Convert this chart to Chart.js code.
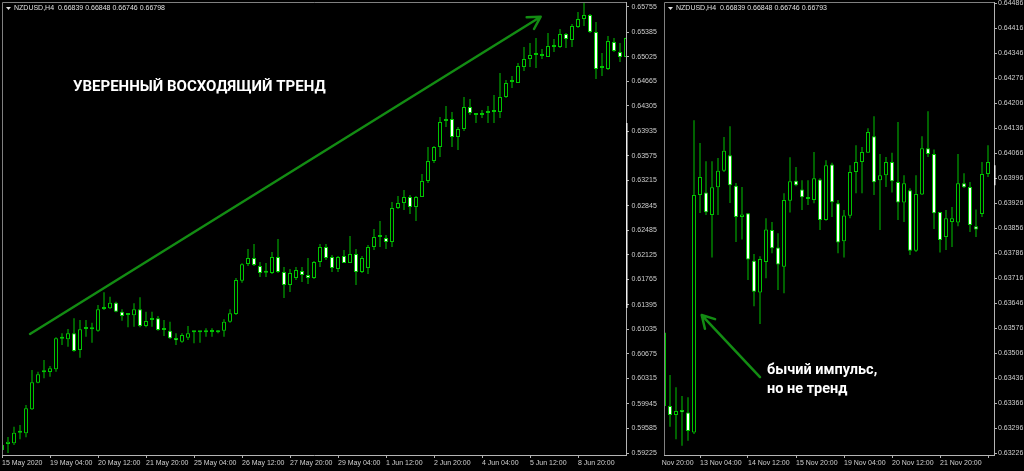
<!DOCTYPE html>
<html>
<head>
<meta charset="utf-8">
<script src="https://cdn.jsdelivr.net/npm/chart.js@4.4.0/dist/chart.umd.min.js"></script>
<style>
html, body { margin: 0; padding: 0; background: #000; }
body { width: 1024px; height: 471px; position: relative; overflow: hidden; }
#leftChart { position: absolute; left: 0; top: 0; }
#rightChart { position: absolute; left: 662px; top: 0; }
</style>
</head>
<body>
<canvas id="leftChart" width="662" height="471"></canvas>
<canvas id="rightChart" width="362" height="471"></canvas>
<script>
// NZDUSD H4, 15 May - 8 Jun 2020 (left window)
var leftOpen = [0.59270,0.59357,0.59368,0.59523,0.59514,0.59865,0.60254,0.60406,0.60411,0.60450,
  0.60898,0.60889,0.60977,0.60733,0.61040,0.61035,0.61015,0.61332,0.61343,0.61425,
  0.61293,0.61245,0.61240,0.61328,0.61084,0.61171,0.61196,0.61025,0.61015,0.60908,
  0.60854,0.60912,0.60992,0.60992,0.60992,0.60996,0.60992,0.61015,0.61147,0.61259,
  0.61746,0.61991,0.62079,0.61961,0.61863,0.61859,0.62093,0.61874,0.61683,0.61786,
  0.61888,0.61830,0.61786,0.62020,0.62239,0.62093,0.61918,0.62108,0.62005,0.62137,
  0.61874,0.61932,0.62239,0.62386,0.62371,0.62313,0.62810,0.62883,0.62971,0.62825,
  0.62971,0.63205,0.63498,0.63702,0.64083,0.64112,0.63849,0.63966,0.64288,0.64171,
  0.64171,0.64200,0.64214,0.64214,0.64434,0.64653,0.64639,0.64873,0.64990,0.65048,
  0.65034,0.65019,0.65165,0.65165,0.65356,0.65268,0.65458,0.65575,0.65634,0.65385,
  0.64858,0.64844,0.65239,0.65092,0.65019];
var leftHigh = [0.59372,0.59460,0.59610,0.59635,0.59928,0.60440,0.60415,0.60586,0.60499,0.60918,
  0.60977,0.61040,0.61196,0.61171,0.61171,0.61132,0.61391,0.61577,0.61512,0.61439,
  0.61328,0.61269,0.61416,0.61503,0.61293,0.61293,0.61230,0.61171,0.61147,0.60977,
  0.60977,0.61084,0.61015,0.61000,0.61050,0.61050,0.61025,0.61182,0.61328,0.61786,
  0.62001,0.62210,0.62283,0.62020,0.62005,0.62166,0.62357,0.61947,0.61918,0.61947,
  0.61947,0.62079,0.62035,0.62283,0.62283,0.62122,0.62108,0.62196,0.62400,0.62210,
  0.62108,0.62269,0.62503,0.62620,0.62415,0.62898,0.62985,0.63073,0.63000,0.62985,
  0.63307,0.63702,0.63717,0.64141,0.64302,0.64214,0.63995,0.64434,0.64405,0.64200,
  0.64244,0.64302,0.64463,0.64785,0.64683,0.64741,0.64931,0.65165,0.65224,0.65297,
  0.65136,0.65370,0.65282,0.65429,0.65370,0.65502,0.65677,0.65809,0.65648,0.65531,
  0.65078,0.65326,0.65297,0.65224,0.65300];
var leftLow = [0.59226,0.59226,0.59343,0.59426,0.59455,0.59855,0.60246,0.60318,0.60342,0.60415,
  0.60806,0.60781,0.60708,0.60620,0.60927,0.60839,0.61000,0.61318,0.61332,0.61284,
  0.61161,0.61065,0.61074,0.61065,0.61065,0.61074,0.61015,0.60937,0.60894,0.60806,
  0.60839,0.60879,0.60830,0.60839,0.60927,0.60927,0.60977,0.60927,0.61132,0.61245,
  0.61717,0.61961,0.61961,0.61801,0.61801,0.61845,0.61859,0.61493,0.61581,0.61757,
  0.61727,0.61698,0.61771,0.61947,0.62049,0.61874,0.61874,0.62005,0.62005,0.61683,
  0.61859,0.61845,0.62196,0.62239,0.62210,0.62239,0.62795,0.62781,0.62722,0.62620,
  0.62971,0.63176,0.63468,0.63556,0.63995,0.63702,0.63659,0.63937,0.64171,0.64054,
  0.64127,0.64054,0.64054,0.64127,0.64419,0.64566,0.64639,0.64814,0.64873,0.64858,
  0.64990,0.65019,0.65092,0.65151,0.65151,0.65165,0.65443,0.65473,0.65370,0.64697,
  0.64741,0.64829,0.65092,0.64946,0.65019];
var leftClose = [0.59343,0.59391,0.59523,0.59523,0.59880,0.60260,0.60377,0.60406,0.60465,0.60904,
  0.60898,0.60977,0.60718,0.61035,0.61040,0.61035,0.61328,0.61362,0.61425,0.61293,
  0.61230,0.61245,0.61328,0.61084,0.61157,0.61196,0.61025,0.61025,0.60904,0.60874,
  0.60952,0.60977,0.60992,0.60992,0.60992,0.60996,0.61015,0.61147,0.61269,0.61757,
  0.61986,0.62079,0.61976,0.61859,0.61863,0.62093,0.61874,0.61683,0.61859,0.61903,
  0.61830,0.61786,0.62020,0.62239,0.62079,0.61932,0.62093,0.62005,0.62137,0.61874,
  0.62079,0.62239,0.62386,0.62386,0.62313,0.62810,0.62883,0.62971,0.62825,0.62971,
  0.63205,0.63498,0.63702,0.64068,0.64112,0.63849,0.63966,0.64288,0.64200,0.64171,
  0.64200,0.64200,0.64214,0.64434,0.64639,0.64653,0.64887,0.64990,0.65048,0.65048,
  0.65034,0.65180,0.65165,0.65356,0.65282,0.65473,0.65575,0.65634,0.65385,0.64844,
  0.64858,0.65253,0.65107,0.65019,0.65297];
var leftTickBars = [0, 8, 16, 24, 32, 40, 48, 56, 64, 72, 80, 88, 96];
var leftTickLabels = ['15 May 2020', '19 May 04:00', '20 May 12:00', '21 May 20:00', '25 May 04:00',
  '26 May 12:00', '27 May 20:00', '29 May 04:00', '1 Jun 12:00', '2 Jun 20:00', '4 Jun 04:00',
  '5 Jun 12:00', '8 Jun 20:00'];
var leftPriceTicks = [0.65755, 0.65385, 0.65025, 0.64665, 0.64305, 0.63935, 0.63575, 0.63215, 0.62845,
  0.62485, 0.62125, 0.61765, 0.61395, 0.61035, 0.60675, 0.60315, 0.59945, 0.59585, 0.59225];

// right window, 12 - 21 Nov
var rightOpen = [0.63564,0.63358,0.63333,0.63347,0.63340,0.63284,0.63949,0.63956,0.63893,0.63971,
  0.64017,0.64061,0.63975,0.63888,0.63898,0.63765,0.63676,0.63762,0.63851,0.63802,
  0.63748,0.63933,0.63989,0.63965,0.63938,0.63935,0.63993,0.63879,0.64035,0.63926,
  0.63820,0.63891,0.64014,0.64042,0.64068,0.64114,0.63991,0.64005,0.64042,0.63986,
  0.63928,0.63963,0.63793,0.63951,0.64080,0.64064,0.63902,0.63832,0.63874,0.63872,
  0.63982,0.63972,0.63862,0.63896,0.64008];
var rightHigh = [0.63564,0.63445,0.63411,0.63386,0.63383,0.64159,0.64095,0.64044,0.64044,0.64053,
  0.64112,0.64142,0.63983,0.63972,0.63899,0.63784,0.63778,0.63884,0.63874,0.63842,
  0.63954,0.64055,0.64028,0.63991,0.63991,0.64070,0.63996,0.64047,0.64040,0.63935,
  0.63907,0.64033,0.64089,0.64084,0.64136,0.64170,0.64064,0.64056,0.64068,0.64154,
  0.64005,0.63968,0.64005,0.64114,0.64184,0.64077,0.63902,0.63907,0.63916,0.64064,
  0.64010,0.63986,0.63909,0.64042,0.64089];
var rightLow = [0.63254,0.63300,0.63265,0.63247,0.63261,0.63280,0.63899,0.63893,0.63774,0.63893,
  0.64014,0.63927,0.63818,0.63825,0.63711,0.63638,0.63588,0.63716,0.63786,0.63683,
  0.63674,0.63900,0.63974,0.63907,0.63921,0.63926,0.63851,0.63877,0.63888,0.63786,
  0.63774,0.63884,0.63954,0.63954,0.64068,0.63949,0.63851,0.63972,0.63956,0.63879,
  0.63874,0.63781,0.63790,0.63949,0.64056,0.63854,0.63788,0.63795,0.63804,0.63862,
  0.63969,0.63846,0.63832,0.63888,0.64000];
var rightClose = [0.63358,0.63333,0.63344,0.63341,0.63288,0.63949,0.64000,0.63901,0.63971,0.64017,
  0.64073,0.63977,0.63888,0.63895,0.63769,0.63678,0.63770,0.63853,0.63800,0.63755,
  0.63935,0.63988,0.63977,0.63943,0.63938,0.63996,0.63879,0.64033,0.63929,0.63816,
  0.63892,0.64014,0.64042,0.64070,0.64126,0.63985,0.64005,0.64042,0.63988,0.63928,
  0.63982,0.63793,0.63952,0.64080,0.64064,0.63898,0.63823,0.63884,0.63884,0.63982,
  0.63971,0.63865,0.63853,0.64008,0.64042];
var rightTickBars = [-2, 6, 14, 22, 30, 38, 46, 54];
var rightTickLabels = ['12 Nov 20:00', '13 Nov 04:00', '14 Nov 12:00', '15 Nov 20:00', '19 Nov 04:00',
  '20 Nov 12:00', '21 Nov 20:00', ''];
var rightPriceTicks = [0.64486, 0.64416, 0.64346, 0.64276, 0.64206, 0.64136, 0.64066, 0.63996, 0.63926,
  0.63856, 0.63786, 0.63716, 0.63646, 0.63576, 0.63506, 0.63436, 0.63366, 0.63296, 0.63226];

var GREEN = '#00c400';
var AXIS = '#b4b4b4';
var FRAME = '#808080';
var LABEL = '#cfcfcf';
var ARROW = '#138c13';

Chart.defaults.font.family = '"Liberation Sans", Arial, sans-serif';
Chart.defaults.font.size = 7;
Chart.defaults.color = LABEL;

function drawArrow(ctx, x0, y0, x1, y1) {
  var ang = Math.atan2(y1 - y0, x1 - x0);
  var len = 14;
  ctx.beginPath();
  ctx.moveTo(x0, y0);
  ctx.lineTo(x1, y1);
  ctx.moveTo(x1 - len * Math.cos(ang - 0.52), y1 - len * Math.sin(ang - 0.52));
  ctx.lineTo(x1, y1);
  ctx.lineTo(x1 - len * Math.cos(ang + 0.52), y1 - len * Math.sin(ang + 0.52));
  ctx.stroke();
}

// frame, window title and the hand drawn notes
var overlayPlugin = {
  id: 'overlay',
  afterDraw: function(chart, args, opts) {
    var ctx = chart.ctx, a = chart.chartArea;
    var xs = chart.scales.x, ys = chart.scales.y;
    ctx.save();
    ctx.strokeStyle = FRAME;
    ctx.lineWidth = 1;
    ctx.beginPath();
    ctx.moveTo(a.left + 0.5, a.bottom);
    ctx.lineTo(a.left + 0.5, a.top + 0.5);
    ctx.lineTo(a.right, a.top + 0.5);
    ctx.stroke();

    // bright piece of the price scale line (visible price band)
    if (opts.scaleMark) {
      ctx.strokeStyle = '#f0f0f0';
      ctx.lineWidth = 1.5;
      ctx.beginPath();
      ctx.moveTo(a.right + 0.75, ys.getPixelForValue(opts.scaleMark[0]));
      ctx.lineTo(a.right + 0.75, ys.getPixelForValue(opts.scaleMark[1]));
      ctx.stroke();
    }

    ctx.fillStyle = '#e0e0e0';
    ctx.beginPath();
    ctx.moveTo(a.left + 4, a.top + 5);
    ctx.lineTo(a.left + 9, a.top + 5);
    ctx.lineTo(a.left + 6.5, a.top + 8);
    ctx.closePath();
    ctx.fill();
    ctx.font = '7px "Liberation Sans", Arial, sans-serif';
    ctx.textBaseline = 'middle';
    ctx.fillText(opts.title, a.left + 12, a.top + 6);

    ctx.strokeStyle = ARROW;
    ctx.lineWidth = 2.5;
    ctx.lineCap = 'round';
    ctx.lineJoin = 'round';
    (opts.arrows || []).forEach(function(ar) {
      drawArrow(ctx, xs.getPixelForValue(ar.from[0]), ys.getPixelForValue(ar.from[1]),
        xs.getPixelForValue(ar.to[0]), ys.getPixelForValue(ar.to[1]));
    });

    ctx.fillStyle = '#ffffff';
    ctx.textBaseline = 'alphabetic';
    (opts.notes || []).forEach(function(n) {
      ctx.font = n.font;
      ctx.fillText(n.text, xs.getPixelForValue(n.at[0]), ys.getPixelForValue(n.at[1]));
    });
    ctx.restore();
  }
};

function makeCandles(id, open, high, low, close, cfg) {
  var bodies = open.map(function(o, i) {
    return {x: i, y: [Math.min(o, close[i]), Math.max(o, close[i])]};
  });
  var wicks = high.map(function(h, i) { return {x: i, y: [low[i], h]}; });
  var fills = open.map(function(o, i) { return close[i] < o ? '#ffffff' : '#000000'; });

  return new Chart(document.getElementById(id), {
    type: 'bar',
    data: {
      datasets: [{
        data: bodies,
        backgroundColor: fills,
        borderColor: GREEN,
        borderWidth: 1,
        borderSkipped: false,
        barThickness: 4,
        minBarLength: 2,
        grouped: false,
        inflateAmount: 0
      }, {
        data: wicks,
        backgroundColor: GREEN,
        borderWidth: 0,
        barThickness: 1,
        grouped: false,
        inflateAmount: 0
      }]
    },
    options: {
      responsive: false,
      animation: false,
      events: [],
      layout: { autoPadding: false, padding: { left: 2, top: 2, right: 0, bottom: 0 } },
      plugins: {
        legend: { display: false },
        tooltip: { enabled: false },
        overlay: cfg.overlay
      },
      scales: {
        x: {
          type: 'linear',
          min: 0,
          max: cfg.xMax,
          offset: false,
          grid: { display: true, offset: false, drawOnChartArea: false, drawTicks: true, tickLength: 3, color: AXIS },
          border: { display: true, color: AXIS },
          ticks: {
            autoSkip: false,
            maxRotation: 0,
            align: 'start',
            padding: 1,
            color: LABEL,
            callback: function(v, i) { return cfg.tickLabels[i]; }
          },
          afterBuildTicks: function(s) {
            s.ticks = cfg.tickBars.map(function(v) { return {value: v}; });
          },
          afterFit: function(s) { s.height = 16; s.paddingLeft = 0; s.paddingRight = 0; }
        },
        y: {
          position: 'right',
          min: cfg.yMin,
          max: cfg.yMax,
          grid: { display: true, drawOnChartArea: false, drawTicks: true, tickLength: 3, color: AXIS },
          border: { display: true, color: AXIS },
          ticks: {
            padding: cfg.yPad,
            color: LABEL,
            callback: function(v) { return v.toFixed(5); }
          },
          afterBuildTicks: function(s) {
            s.ticks = cfg.priceTicks.map(function(v) { return {value: v}; });
          },
          afterFit: function(s) { s.width = cfg.yWidth; s.paddingTop = 0; s.paddingBottom = 0; }
        }
      }
    },
    plugins: [overlayPlugin]
  });
}

makeCandles('leftChart', leftOpen, leftHigh, leftLow, leftClose, {
  xMax: 104, yMin: 0.59196, yMax: 0.65824, yWidth: 36, yPad: 2.5,
  tickBars: leftTickBars, tickLabels: leftTickLabels, priceTicks: leftPriceTicks,
  overlay: {
    title: 'NZDUSD,H4  0.66839 0.66848 0.66746 0.66798',
    scaleMark: [0.64054, 0.61347],
    arrows: [{ from: [4.67, 0.60967], to: [89.78, 0.65609] }],
    notes: [{ at: [11.83, 0.64526], text: 'УВЕРЕННЫЙ ВОСХОДЯЩИЙ ТРЕНД', font: 'bold 15px Roboto, "DejaVu Sans", sans-serif' }]
  }
});

makeCandles('rightChart', rightOpen, rightHigh, rightLow, rightClose, {
  xMax: 55, yMin: 0.63221, yMax: 0.64490, yWidth: 30, yPad: 1,
  tickBars: rightTickBars, tickLabels: rightTickLabels, priceTicks: rightPriceTicks,
  overlay: {
    title: 'NZDUSD,H4  0.66839 0.66848 0.66746 0.66793',
    scaleMark: [0.64033, 0.63977],
    arrows: [{ from: [16.0, 0.63439], to: [6.28, 0.63613] }],
    notes: [
      { at: [17.17, 0.63448], text: 'бычий импульс,', font: 'bold 14.5px Roboto, "DejaVu Sans", sans-serif' },
      { at: [17.17, 0.63394], text: 'но не тренд', font: 'bold 14.5px Roboto, "DejaVu Sans", sans-serif' }
    ]
  }
});
</script>
</body>
</html>
